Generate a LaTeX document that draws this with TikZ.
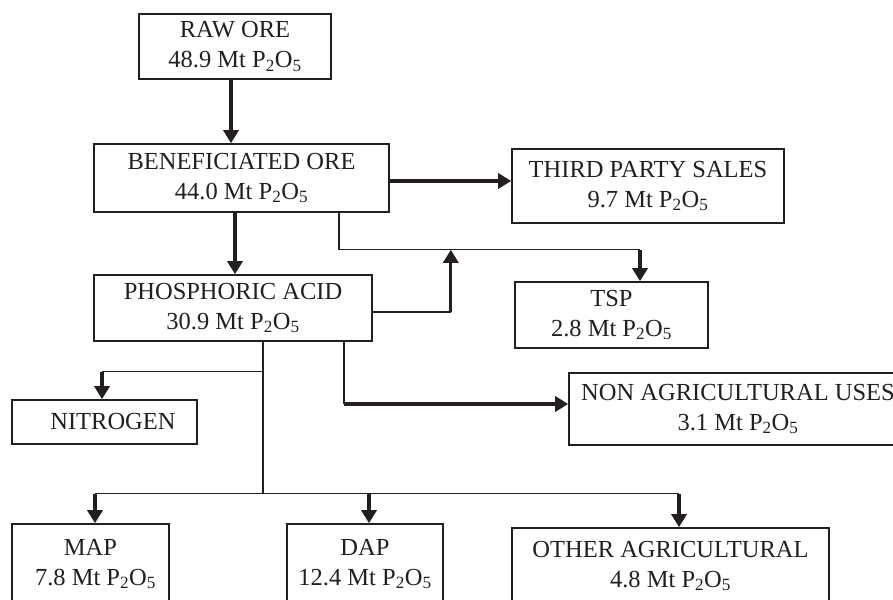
\documentclass[tikz,border=0pt]{standalone}
\usepackage{fontspec}
\setmainfont{Liberation Serif}
\usepackage{tikz}
\usetikzlibrary{arrows.meta,calc}
\definecolor{ink}{HTML}{231F20}
\newcommand{\pox}{P\textsubscript{2}O\textsubscript{5}}

\begin{document}
\begin{tikzpicture}[x=1pt,y=-1pt,
    box/.style={draw=ink, line width=1.6pt, inner sep=0pt, align=center, text=ink,
      font=\fontsize{24.5}{30}\selectfont},
    flow/.style={draw=ink, line width=3.2pt, -{Triangle[length=13pt,width=15pt]}},
    link/.style={draw=ink, line width=1.3pt}]
    \useasboundingbox (0,0) rectangle (893,599);
    \clip (0,0) rectangle (893,599);

    % Draw the boxes
    \node[box, minimum width=192pt, minimum height=65pt] (raw) at (235,46.5) {RAW ORE\\48.9 Mt \pox};
    \node[box, minimum width=295pt, minimum height=68pt] (ben) at (241.5,178) {BENEFICIATED ORE\\44.0 Mt \pox};
    \node[box, minimum width=272pt, minimum height=74pt] (third) at (648,186) {THIRD PARTY SALES\\9.7 Mt \pox};
    \node[box, minimum width=193pt, minimum height=66pt] (tsp) at (611.5,315) {TSP\\2.8 Mt \pox};
    \node[box, minimum width=278pt, minimum height=66pt] (phos) at (233,308) {PHOSPHORIC ACID\\30.9 Mt \pox};
    \node[box, minimum width=185pt, minimum height=44pt] (nitro) at (104.5,422) {\hspace*{17pt}NITROGEN};
    \node[box, minimum width=338pt, minimum height=72pt] (nonagri) at (738,409) {NON AGRICULTURAL USES\\3.1 Mt \pox};
    \node[box, minimum width=157pt, minimum height=80pt] (map) at (90.5,564) {MAP\\\hspace*{10pt}7.8 Mt \pox};
    \node[box, minimum width=156pt, minimum height=80pt] (dap) at (365,564) {DAP\\12.4 Mt \pox};
    \node[box, minimum width=317pt, minimum height=76pt] (other) at (670.5,566) {OTHER AGRICULTURAL\\4.8 Mt \pox};

    % Points where the lines leave or meet the boxes
    \coordinate (r1) at ([xshift=-4pt]raw.south);
    \coordinate (b1) at ([xshift=-6.5pt]ben.south);
    \coordinate (b2) at ([yshift=-3pt]ben.east);
    \coordinate (b3) at ([xshift=97.5pt]ben.south);
    \coordinate (j1) at ($(b3)+(0,37)$);
    \coordinate (t1) at ([xshift=28.5pt]tsp.north);
    \coordinate (p1) at ([yshift=-4pt]phos.east);
    \coordinate (p2) at ($(p1)+(78,0)$);
    \coordinate (p3) at ([xshift=30pt]phos.south);
    \coordinate (p4) at ($(p3)+(0,152)$);
    \coordinate (p5) at ([xshift=111pt]phos.south);
    \coordinate (n1) at ($(p3)+(0,30)$);
    \coordinate (n2) at ([xshift=-2.5pt]nitro.north);
    \coordinate (u1) at ([yshift=5pt]nonagri.west);
    \coordinate (m1) at ([xshift=4.5pt]map.north);
    \coordinate (d1) at ([xshift=4pt]dap.north);
    \coordinate (o1) at ([xshift=8.5pt]other.north);

    % Draw the main flow
    \draw[flow] (r1) -- (r1 |- ben.north);
    \draw[flow] (b1) -- (b1 |- phos.north);
    \draw[flow] (b2) -- (b2 -| third.west);

    % Draw the branch to TSP
    \draw[link] (b3) -- (j1) -- (j1 -| t1);
    \draw[flow] (j1 -| t1) -- (t1);
    \draw[link] (p1) -- (p2);
    \draw[flow] (p2) -- (p2 |- j1);

    % Draw the branches below the acid
    \draw[link] (p3) -- (p4);
    \draw[link] (n1) -- (n1 -| n2);
    \draw[flow] (n1 -| n2) -- (n2);
    \draw[link] (p5) -- (p5 |- u1);
    \draw[flow] (p5 |- u1) -- (u1);
    \draw[link] (p4 -| m1) -- (p4 -| o1);
    \draw[flow] (p4 -| m1) -- (m1);
    \draw[flow] (p4 -| d1) -- (d1);
    \draw[flow] (p4 -| o1) -- (o1);
  \end{tikzpicture}
\end{document}
